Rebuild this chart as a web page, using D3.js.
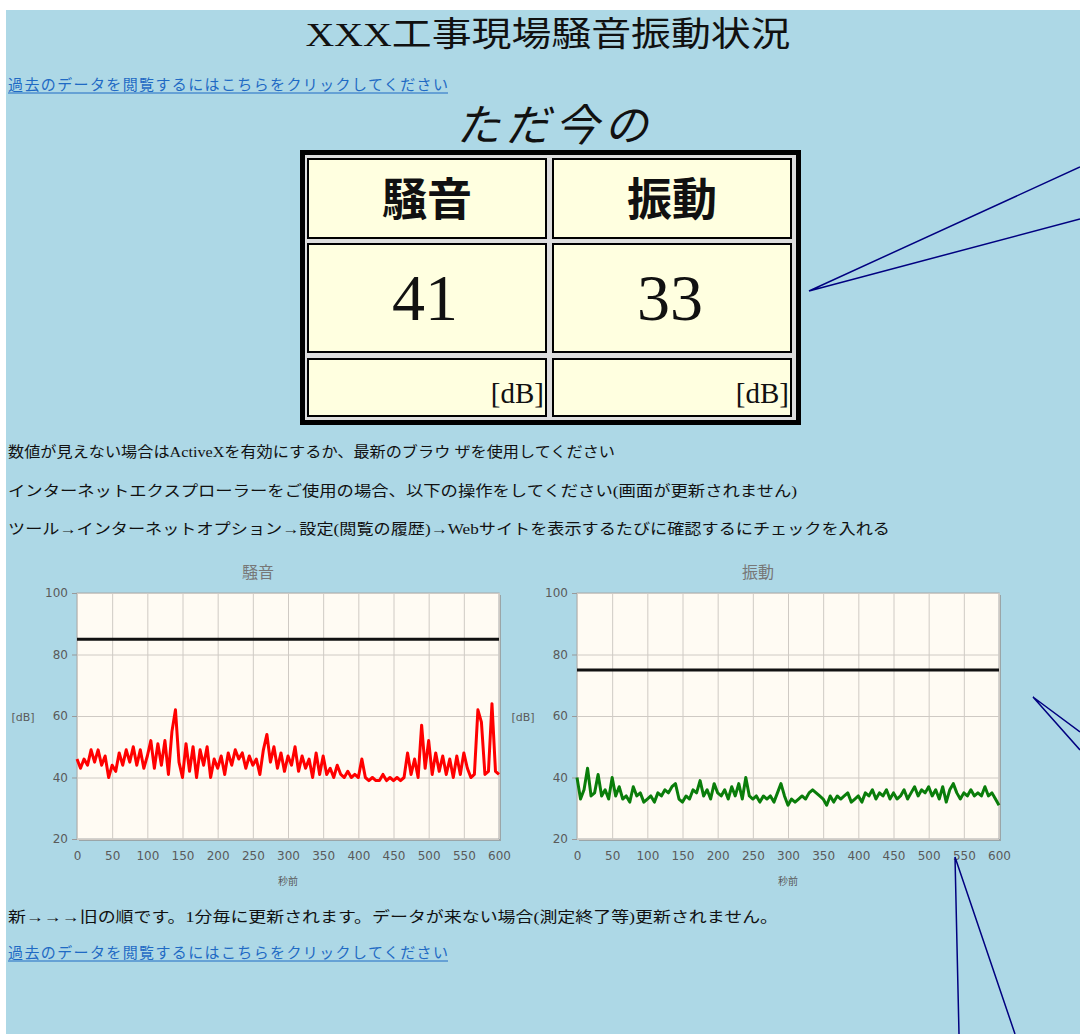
<!DOCTYPE html>
<html>
<head>
<meta charset="utf-8">
<script src="https://cdn.jsdelivr.net/npm/d3@7"></script>
<style>
  body { margin: 0; background: #fff; }
  svg { display: block; }
</style>
</head>
<body>
<svg></svg>
<script>
// chart data
var seconds = d3.range(0, 601, 5);
var noise = [46,43,46,44,49,45,49,44,47,40,44,42,48,44,49,45,50,44,49,43,
             47,52,43,51,44,52,41,55,62,45,40,51,42,50,40,49,44,50,40,46,
             43,47,41,48,44,49,46,48,43,47,44,46,41,49,54,45,50,43,48,42,
             47,44,50,42,47,43,46,40,48,41,47,41,43,40,44,41,40,42,40,41,
             40,46,40,39,40,39,39,41,39,40,39,40,39,40,48,41,46,40,57,43,
             52,41,48,42,47,41,46,40,47,41,48,43,40,41,62,58,41,42,64,42,41];
var vibration = [40,33,36,43,34,35,41,34,36,33,40,34,37,33,34,32,37,34,35,32,
                 33,34,32,35,34,36,35,37,38,33,32,34,33,36,35,39,34,36,33,38,
                 35,34,36,33,37,34,38,33,40,34,33,34,32,34,33,34,32,35,38,34,
                 31,33,32,33,34,33,35,36,35,34,33,31,34,32,34,33,34,35,32,33,
                 34,32,35,34,36,33,35,34,36,33,35,33,34,36,33,35,37,34,36,35,
                 37,34,36,33,37,32,36,38,35,33,35,34,36,34,35,34,37,34,35,33,31];
var noiseLimit = 85;
var vibLimit = 75;
var xTicks = [0,50,100,150,200,250,300,350,400,450,500,550,600];
var yTicks = [20,40,60,80,100];
var headers = ["騒音", "振動"];
var current = [41, 33];

var width = 1080;
var height = 1034;
var linkText = "過去のデータを閲覧するにはこちらをクリックしてください";
var mixFont = "'Liberation Serif', 'Noto Sans CJK JP', serif";
var cjkFont = "'Noto Sans CJK JP', sans-serif";

var svg = d3.select("svg")
	.attr("width", width)
	.attr("height", height);

// page background (white border at top/left like the screenshot)
svg.append("rect")
	.attr("x", 6).attr("y", 10)
	.attr("width", width - 6).attr("height", height - 10)
	.attr("fill", "#add8e6");

svg.append("text")
	.attr("x", 548).attr("y", 46)
	.attr("text-anchor", "middle")
	.style("font-family", mixFont)
	.style("font-size", "34px")
	.attr("fill", "#111")
	.attr("textLength", 485)
	.attr("lengthAdjust", "spacingAndGlyphs")
	.text("XXX工事現場騒音振動状況");

function addLink(y){
	svg.append("text")
		.attr("x", 8).attr("y", y)
		.style("font-family", cjkFont)
		.style("font-size", "15px")
		.attr("fill", "#1f6ac4")
		.attr("textLength", 440)
		.text(linkText);
	svg.append("line")
		.attr("x1", 8).attr("x2", 448)
		.attr("y1", y + 3).attr("y2", y + 3)
		.attr("stroke", "#1f6ac4")
		.attr("stroke-width", 1);
}
addLink(90);

svg.append("text")
	.attr("x", 552).attr("y", 141)
	.attr("text-anchor", "middle")
	.style("font-family", cjkFont)
	.style("font-size", "44px")
	.style("font-style", "italic")
	.attr("fill", "#111")
	.attr("textLength", 192)
	.text("ただ今の");

// current values table
var table = svg.append("g");
table.append("rect")
	.attr("x", 300).attr("y", 150)
	.attr("width", 501).attr("height", 275)
	.attr("fill", "#000");
table.append("rect")
	.attr("x", 305).attr("y", 155)
	.attr("width", 491).attr("height", 265)
	.attr("fill", "#ddd");

var colX = [308, 553];
var rows = [[159, 79], [244, 108], [359, 57]];
colX.forEach(function(cx, i){
	rows.forEach(function(r){
		table.append("rect")
			.attr("x", cx).attr("y", r[0])
			.attr("width", 238).attr("height", r[1])
			.attr("fill", "#ffffe0")
			.attr("stroke", "#000")
			.attr("stroke-width", 2);
	});
	table.append("text")
		.attr("x", cx + 119).attr("y", 216)
		.attr("text-anchor", "middle")
		.style("font-family", cjkFont)
		.style("font-size", "45px")
		.style("font-weight", "bold")
		.attr("fill", "#111")
		.text(headers[i]);
	table.append("text")
		.attr("x", cx + 117).attr("y", 320)
		.attr("text-anchor", "middle")
		.style("font-family", "'Liberation Serif', serif")
		.style("font-size", "66px")
		.attr("fill", "#111")
		.text(current[i]);
	table.append("text")
		.attr("x", cx + 236).attr("y", 403)
		.attr("text-anchor", "end")
		.style("font-family", "'Liberation Serif', serif")
		.style("font-size", "29px")
		.attr("fill", "#111")
		.text("[dB]");
});

// notes
var notes = [
	["数値が見えない場合はActiveXを有効にするか、最新のブラウ ザを使用してください", 457, 607],
	["インターネットエクスプローラーをご使用の場合、以下の操作をしてください(画面が更新されません)", 496, 789],
	["ツール→インターネットオプション→設定(閲覧の履歴)→Webサイトを表示するたびに確認するにチェックを入れる", 534, 882],
	["新→→→旧の順です。1分毎に更新されます。データが来ない場合(測定終了等)更新されません。", 922, 770]
];
notes.forEach(function(n){
	svg.append("text")
		.attr("x", 8).attr("y", n[1])
		.style("font-family", mixFont)
		.style("font-size", "15px")
		.attr("fill", "#111")
		.attr("textLength", n[2])
		.attr("lengthAdjust", "spacingAndGlyphs")
		.text(n[0]);
});
addLink(958);

// line charts
function drawChart(x0, title, values, limit, color){
	var xScale = d3.scaleLinear().domain([0, 600]).range([x0, x0 + 422]);
	var yScale = d3.scaleLinear().domain([20, 100]).range([839, 593]);
	var g = svg.append("g");

	g.append("rect")
		.attr("x", x0 + 2).attr("y", 595)
		.attr("width", 422).attr("height", 246)
		.attr("fill", "#9aa5a8");
	g.append("rect")
		.attr("x", x0).attr("y", 593)
		.attr("width", 422).attr("height", 246)
		.attr("fill", "#fffbf3")
		.attr("stroke", "#a8a8a8");

	// grid
	g.append("g")
		.attr("transform", "translate(0,839)")
		.call(d3.axisBottom(xScale).tickValues(xTicks).tickSize(-246).tickFormat(""))
		.call(a => a.select(".domain").remove())
		.selectAll("line").attr("stroke", "#cfcac4");
	g.append("g")
		.attr("transform", `translate(${x0},0)`)
		.call(d3.axisLeft(yScale).tickValues(yTicks).tickSize(-422).tickFormat(""))
		.call(a => a.select(".domain").remove())
		.selectAll("line").attr("stroke", "#cfcac4");

	// axes
	var yAx = g.append("g")
		.attr("transform", `translate(${x0},0)`)
		.call(d3.axisLeft(yScale).tickValues(yTicks).tickSize(5).tickPadding(4));
	var xAx = g.append("g")
		.attr("transform", "translate(0,839)")
		.call(d3.axisBottom(xScale).tickValues(xTicks).tickSize(0).tickPadding(12));
	[yAx, xAx].forEach(function(a){
		a.select(".domain").remove();
		a.selectAll("line").attr("stroke", "#999");
		a.selectAll("text")
			.attr("fill", "#5a5a5a")
			.style("font-family", "'DejaVu Sans', sans-serif")
			.style("font-size", "12px");
	});

	g.append("line")
		.attr("x1", xScale(0)).attr("x2", xScale(600))
		.attr("y1", yScale(limit)).attr("y2", yScale(limit))
		.attr("stroke", "#111")
		.attr("stroke-width", 3);

	var line = d3.line()
		.x((d, i) => xScale(seconds[i]))
		.y(d => yScale(d));
	g.append("path")
		.datum(values)
		.attr("d", line)
		.attr("fill", "none")
		.attr("stroke", color)
		.attr("stroke-width", 3)
		.attr("stroke-linejoin", "round");

	g.append("text")
		.attr("x", x0 + 181).attr("y", 578)
		.attr("text-anchor", "middle")
		.style("font-family", cjkFont)
		.style("font-size", "16px")
		.attr("fill", "#777")
		.text(title);
	g.append("text")
		.attr("x", x0 - 54).attr("y", 721)
		.attr("text-anchor", "middle")
		.style("font-family", "'DejaVu Sans', sans-serif")
		.style("font-size", "11px")
		.attr("fill", "#5a5a5a")
		.text("[dB]");
	g.append("text")
		.attr("x", x0 + 211).attr("y", 885)
		.attr("text-anchor", "middle")
		.style("font-family", cjkFont)
		.style("font-size", "10px")
		.attr("fill", "#5a5a5a")
		.text("秒前");
}
drawChart(77, headers[0], noise, noiseLimit, "#ff0000");
drawChart(577, headers[1], vibration, vibLimit, "#0a7d0a");

// callout lines drawn over the screenshot
var callouts = [
	[[1080, 167], [809, 291], [1080, 219]],
	[[1080, 732], [1033, 697], [1080, 750]],
	[[959, 1034], [955, 857], [1015, 1034]]
];
callouts.forEach(function(c){
	svg.append("path")
		.attr("d", d3.line()(c))
		.attr("fill", "none")
		.attr("stroke", "#000080")
		.attr("stroke-width", 1.5);
});
</script>
</body>
</html>
